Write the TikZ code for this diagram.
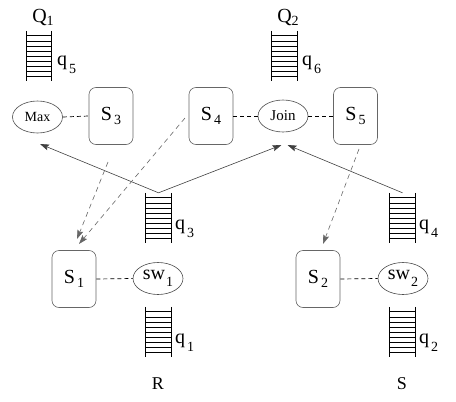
\documentclass[tikz,border=0pt]{standalone}
\usepackage{fontspec}
\setmainfont{Liberation Serif}
\usetikzlibrary{shapes.geometric,arrows.meta,calc}
\newcommand{\sbx}[4]{#1\kern#4\raisebox{-#3}{\fontsize{14}{14}\selectfont #2}}
\begin{document}
\begin{tikzpicture}[x=1pt,y=-1pt,
  big/.style={font=\fontsize{20}{20}\selectfont},
  proc/.style={draw=black!60, line width=0.6pt, rounded corners=7pt, minimum width=44pt, minimum height=57pt, inner sep=0pt, big},
  op/.style={ellipse, draw=black!70, line width=0.6pt, minimum width=50pt, minimum height=32pt, inner sep=0pt},
  queue/.style={minimum width=25pt, minimum height=50pt, inner sep=0pt},
  rail/.style={line width=0.9pt},
  rung/.style={line width=0.7pt},
  link/.style={line width=0.7pt, dash pattern=on 4pt off 3pt},
  flow/.style={draw=black!75, line width=0.6pt, -{Stealth[length=9pt,width=6pt,inset=1.5pt]}},
  sched/.style={draw=black!60, line width=0.6pt, dash pattern=on 5pt off 4pt, -{Stealth[length=9pt,width=6pt,inset=1.5pt]}}]
\useasboundingbox (0,0) rectangle (456,402);

% queues
\node[queue] (q5) at (39,56) {};
\node[queue] (q6) at (284.5,56) {};
\node[queue] (q3) at (158.5,218) {};
\node[queue] (q4) at (402.5,218) {};
\node[queue] (q1) at (158.5,332) {};
\node[queue] (q2) at (402.5,332) {};
\foreach \q in {q1,q2,q3,q4,q5,q6}{
  \draw[rail] (\q.north west) -- (\q.south west) (\q.north east) -- (\q.south east);
  \foreach \i in {1,...,9}
    \draw[rung] ($(\q.north west)!\i/10!(\q.south west)$) -- ($(\q.north east)!\i/10!(\q.south east)$);
}

% queue labels
\node[big, anchor=base] (Q1) at (43,22) {\sbx{Q}{1}{3pt}{0pt}};
\node[big, anchor=base] (Q2) at (288,22) {\sbx{Q}{2}{3pt}{0pt}};
\node[big, anchor=base west, inner sep=0pt] (l5) at (57,65) {\sbx{q}{5}{8pt}{2pt}};
\node[big, anchor=base west, inner sep=0pt] (l6) at (302,65) {\sbx{q}{6}{8pt}{2pt}};
\node[big, anchor=base west, inner sep=0pt] (l3) at (175,229) {\sbx{q}{3}{8pt}{2pt}};
\node[big, anchor=base west, inner sep=0pt] (l4) at (419,229) {\sbx{q}{4}{8pt}{2pt}};
\node[big, anchor=base west, inner sep=0pt] (l1) at (175,343) {\sbx{q}{1}{8pt}{2pt}};
\node[big, anchor=base west, inner sep=0pt] (l2) at (419,343) {\sbx{q}{2}{8pt}{2pt}};
\node[font=\fontsize{18}{18}\selectfont, anchor=base] (R) at (158,389) {R};
\node[font=\fontsize{18}{18}\selectfont, anchor=base] (S) at (402,389) {S};

% operators and servers
\node[op, font=\fontsize{14}{14}\selectfont] (max) at (37.5,117) {Max};
\node[proc] (s3) at (111,116) {\sbx{S}{3}{4pt}{2pt}};
\node[proc] (s4) at (211,116) {\sbx{S}{4}{4pt}{2pt}};
\node[op, font=\fontsize{15}{15}\selectfont] (join) at (283,116) {Join};
\node[proc] (s5) at (355.5,116) {\sbx{S}{5}{4pt}{2pt}};
\node[proc] (s1) at (74,279) {\sbx{S}{1}{4pt}{2pt}};
\node[op, big] (sw1) at (158,278.5) {\sbx{sw}{1}{7pt}{1pt}};
\node[proc] (s2) at (318,279) {\sbx{S}{2}{4pt}{2pt}};
\node[op, big] (sw2) at (403,278.5) {\sbx{sw}{2}{7pt}{1pt}};

% dashed links
\draw[link] (max.east) -- (s3.west);
\draw[link] (s4.east) -- (join.west);
\draw[link] (join.east) -- (s5.west);
\draw[link] (s1.east) -- (sw1.west);
\draw[link] (s2.east) -- (sw2.west);

% data flow arrows
\coordinate (maxin) at (40,144);
\coordinate (joinL) at (281.5,145);
\coordinate (joinR) at (287.5,145);
\draw[flow] (q3.north) -- (maxin);
\draw[flow] (q3.north) -- (joinL);
\draw[flow] (q4.north) -- (joinR);

% scheduling arrows
\coordinate (s3out) at (108,162);
\coordinate (s4out) at (185,118);
\coordinate (s5out) at (359,149);
\coordinate (s1inA) at (77,239);
\coordinate (s1inB) at (79,244);
\coordinate (s2in) at (323,244);
\draw[sched] (s3out) -- (s1inA);
\draw[sched] (s4out) -- (s1inB);
\draw[sched] (s5out) -- (s2in);
\end{tikzpicture}
\end{document}
